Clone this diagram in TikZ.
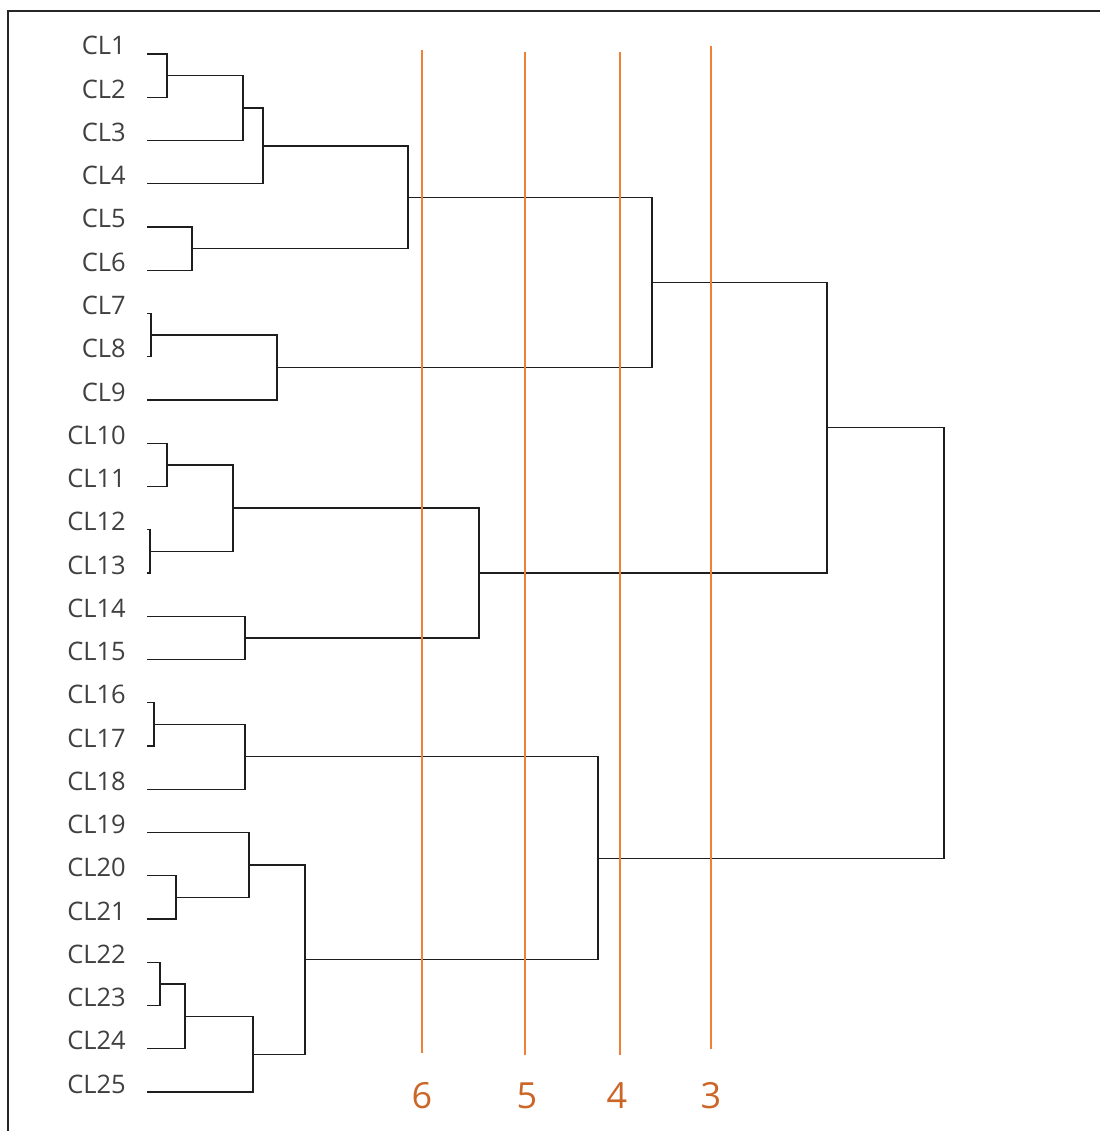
\documentclass[tikz,border=0pt]{standalone}
\usepackage{fontspec}
\setmainfont{Open Sans}
\definecolor{lbl}{RGB}{64,64,64}
\definecolor{den}{RGB}{30,30,30}
\definecolor{cut}{RGB}{240,128,56}
\definecolor{cutnum}{RGB}{204,102,40}
\begin{document}
\begin{tikzpicture}[x=1pt,y=-1pt,
  leaflabel/.style={anchor=base east,inner sep=0pt,text=lbl,font=\fontsize{25.5}{28}\selectfont},
  denline/.style={draw=den,line width=1.3pt},
  cutline/.style={draw=cut,line width=1.5pt},
  cutlabel/.style={anchor=base,inner sep=0pt,text=cutnum,font=\fontsize{36}{40}\selectfont},
  frameline/.style={draw=black!85,line width=1.6pt}]
\useasboundingbox (0,0) rectangle (1100,1131);
% frame
\coordinate (fa) at (8,1131);
\coordinate (fb) at (8,11);
\coordinate (fc) at (1100,11);
\draw[frameline] (fa) -- (fb) -- (fc);
% leaves
\foreach \i in {1,...,25}{
  \pgfmathsetmacro{\yy}{54+43.25*(\i-1)}
  \coordinate (L\i) at (147,\yy);
  \node[leaflabel] (cl\i) at (126,\yy+1) {CL\i};
}
% merge points
\coordinate (m12) at (167,75.6);
\coordinate (m123) at (243,108);
\coordinate (m1234) at (263,146);
\coordinate (m56) at (192,248.6);
\coordinate (mA) at (408,197.3);
\coordinate (m78) at (151,335.1);
\coordinate (m789) at (277,367.6);
\coordinate (mB) at (652,282.5);
\coordinate (m1011) at (167,464.9);
\coordinate (m1213) at (150,551.4);
\coordinate (m1013) at (233,508.1);
\coordinate (m1415) at (245,637.9);
\coordinate (mC) at (479,573);
\coordinate (mBC) at (827,427.7);
\coordinate (m1617) at (154,724.4);
\coordinate (m1618) at (245,756.8);
\coordinate (m2021) at (176,897.4);
\coordinate (m1921) at (249,865);
\coordinate (m2223) at (160,983.9);
\coordinate (m2224) at (185,1016.3);
\coordinate (m2225) at (253,1054.2);
\coordinate (m1925) at (305,959.6);
\coordinate (m1625) at (598,858.2);
\coordinate (root) at (944,643);
% dendrogram
\draw[denline] (L1) -| (m12);
\draw[denline] (L2) -| (m12);
\draw[denline] (m12) -| (m123);
\draw[denline] (L3) -| (m123);
\draw[denline] (m123) -| (m1234);
\draw[denline] (L4) -| (m1234);
\draw[denline] (L5) -| (m56);
\draw[denline] (L6) -| (m56);
\draw[denline] (m1234) -| (mA);
\draw[denline] (m56) -| (mA);
\draw[denline] (L7) -| (m78);
\draw[denline] (L8) -| (m78);
\draw[denline] (m78) -| (m789);
\draw[denline] (L9) -| (m789);
\draw[denline] (mA) -| (mB);
\draw[denline] (m789) -| (mB);
\draw[denline] (L10) -| (m1011);
\draw[denline] (L11) -| (m1011);
\draw[denline] (L12) -| (m1213);
\draw[denline] (L13) -| (m1213);
\draw[denline] (m1011) -| (m1013);
\draw[denline] (m1213) -| (m1013);
\draw[denline] (L14) -| (m1415);
\draw[denline] (L15) -| (m1415);
\draw[denline] (m1013) -| (mC);
\draw[denline] (m1415) -| (mC);
\draw[denline] (mB) -| (mBC);
\draw[denline] (mC) -| (mBC);
\draw[denline] (L16) -| (m1617);
\draw[denline] (L17) -| (m1617);
\draw[denline] (m1617) -| (m1618);
\draw[denline] (L18) -| (m1618);
\draw[denline] (L20) -| (m2021);
\draw[denline] (L21) -| (m2021);
\draw[denline] (L19) -| (m1921);
\draw[denline] (m2021) -| (m1921);
\draw[denline] (L22) -| (m2223);
\draw[denline] (L23) -| (m2223);
\draw[denline] (m2223) -| (m2224);
\draw[denline] (L24) -| (m2224);
\draw[denline] (m2224) -| (m2225);
\draw[denline] (L25) -| (m2225);
\draw[denline] (m1921) -| (m1925);
\draw[denline] (m2225) -| (m1925);
\draw[denline] (m1618) -| (m1625);
\draw[denline] (m1925) -| (m1625);
\draw[denline] (mBC) -| (root);
\draw[denline] (m1625) -| (root);
% cut lines
\coordinate (c6t) at (422,50);  \coordinate (c6b) at (422,1053);
\coordinate (c5t) at (525,52);  \coordinate (c5b) at (525,1055);
\coordinate (c4t) at (620,52);  \coordinate (c4b) at (620,1055);
\coordinate (c3t) at (711,46);  \coordinate (c3b) at (711,1049);
\draw[cutline] (c6t) -- (c6b);
\draw[cutline] (c5t) -- (c5b);
\draw[cutline] (c4t) -- (c4b);
\draw[cutline] (c3t) -- (c3b);
\node[cutlabel] (n6) at (422,1108) {6};
\node[cutlabel] (n5) at (527,1108) {5};
\node[cutlabel] (n4) at (617,1108) {4};
\node[cutlabel] (n3) at (711,1108) {3};
\end{tikzpicture}
\end{document}
